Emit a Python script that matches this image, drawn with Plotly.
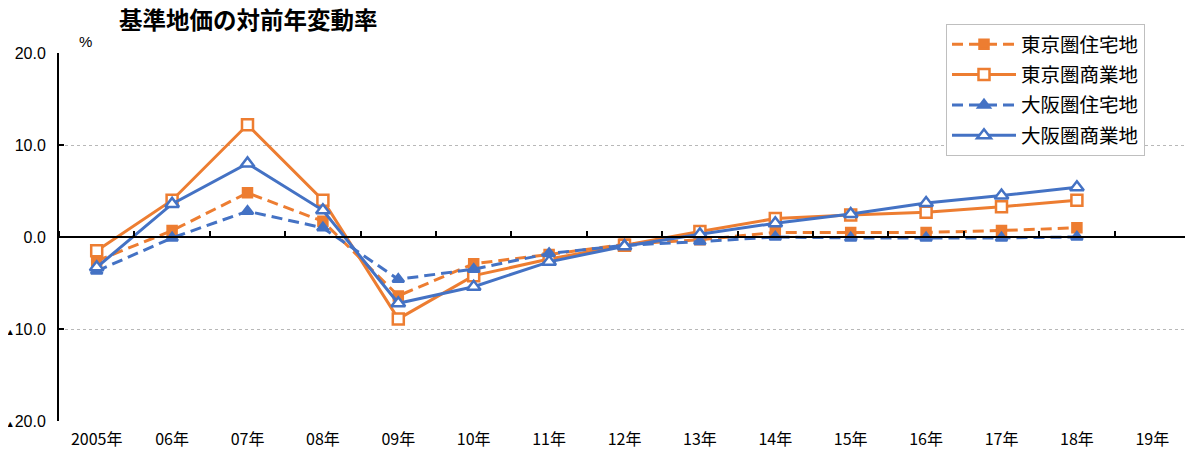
import plotly.graph_objects as go

# --- data ---
years = ["2005年", "06年", "07年", "08年", "09年", "10年", "11年", "12年",
         "13年", "14年", "15年", "16年", "17年", "18年", "19年"]

tokyo_res = [-2.6, 0.7, 4.8, 1.7, -6.4, -2.9, -1.9, -0.8, -0.3, 0.5, 0.5, 0.5, 0.7, 1.0, None]
tokyo_com = [-1.5, 4.0, 12.2, 4.0, -8.9, -4.2, -2.4, -0.9, 0.6, 2.0, 2.4, 2.7, 3.3, 4.0, None]
osaka_res = [-3.7, -0.1, 2.8, 1.0, -4.6, -3.5, -1.8, -0.9, -0.5, 0.0, -0.1, -0.1, -0.1, 0.0, None]
osaka_com = [-3.3, 3.6, 8.0, 2.9, -7.2, -5.4, -2.7, -1.0, 0.3, 1.5, 2.5, 3.7, 4.5, 5.4, None]

y_ticks = [-20, -10, 0, 10, 20]
TRI = "<span style='font-size:9px'>▲</span>"
y_labels = [TRI + "20.0", TRI + "10.0", "0.0", "10.0", "20.0"]

ORANGE = "#ED7D31"
BLUE = "#4472C4"
DASH = "11px,6px"
FONT = "Noto Sans CJK JP, Noto Sans, sans-serif"

# name, values, colour, dash, symbol, fill, size
series = [
    ("東京圏住宅地", tokyo_res, ORANGE, DASH, "square", ORANGE, 9),
    ("東京圏商業地", tokyo_com, ORANGE, "solid", "square", "white", 11),
    ("大阪圏住宅地", osaka_res, BLUE, DASH, "triangle-up", BLUE, 10),
    ("大阪圏商業地", osaka_com, BLUE, "solid", "triangle-up", "white", 12),
]

fig = go.Figure()
for name, vals, col, dash, sym, fill, msize in series:
    fig.add_trace(go.Scatter(
        x=years, y=vals, name=name, legendgroup=name, mode="lines+markers",
        line=dict(color=col, width=3, dash=dash),
        marker=dict(symbol=sym, size=msize, color=fill, line=dict(color=col, width=2.5)),
        connectgaps=False,
    ))

# invisible trace so the zero-line category axis gets drawn
fig.add_trace(go.Scatter(x=years, y=osaka_res, xaxis="x2", mode="markers",
                         opacity=0, showlegend=False, hoverinfo="skip"))

# the page body has an 8px margin, so the figure is pulled up/left by 8px
fig.update_layout(
    width=1193, height=452,
    margin=dict(l=51, r=11, t=45, b=39, autoexpand=False),
    plot_bgcolor="white", paper_bgcolor="white",
    font=dict(family=FONT, color="black", size=16),
    title=dict(text="<b>基準地価の対前年変動率</b>", x=111 / 1193, xanchor="left",
               y=1 - 13 / 452, yanchor="middle",
               font=dict(size=23.5, family=FONT, color="black")),
    showlegend=True,
    legend=dict(x=(946 - 59) / 1131, xanchor="left", y=1 + (53 - 24) / 368, yanchor="top",
                bgcolor="white", bordercolor="#bfbfbf", borderwidth=1,
                font=dict(size=19.5, family=FONT), tracegroupgap=2,
                itemwidth=64),
    xaxis=dict(type="category", categoryorder="array", categoryarray=years,
               range=[-0.5, 14.5], showline=False, showgrid=False, ticks="",
               ticklabelstandoff=7,
               tickfont=dict(size=16, family=FONT), zeroline=False),
    xaxis2=dict(type="category", categoryorder="array", categoryarray=years,
                range=[-0.5, 14.5], overlaying="x", anchor="free", position=0.5,
                side="top", showline=True, linecolor="black", linewidth=2,
                ticks="outside", tickson="boundaries", ticklen=5, tickwidth=2,
                tickcolor="black", showticklabels=False, showgrid=False),
    yaxis=dict(range=[-20, 20], tickvals=y_ticks, ticktext=y_labels,
               showline=True, linecolor="black", linewidth=2,
               ticks="inside", ticklen=5, tickwidth=2, tickcolor="black",
               ticklabelstandoff=8, ticklabeloverflow="allow",
               showgrid=True, gridcolor="#b8b8b8", gridwidth=1, griddash="dot",
               zeroline=False, tickfont=dict(size=16, family="Liberation Sans, Arial")),
)

fig.add_annotation(text="%", xref="paper", yref="paper", x=0.016, y=1 + (53 - 31) / 368,
                   showarrow=False, font=dict(size=15, family="Liberation Sans, Arial"))

fig.write_html("out.html")
